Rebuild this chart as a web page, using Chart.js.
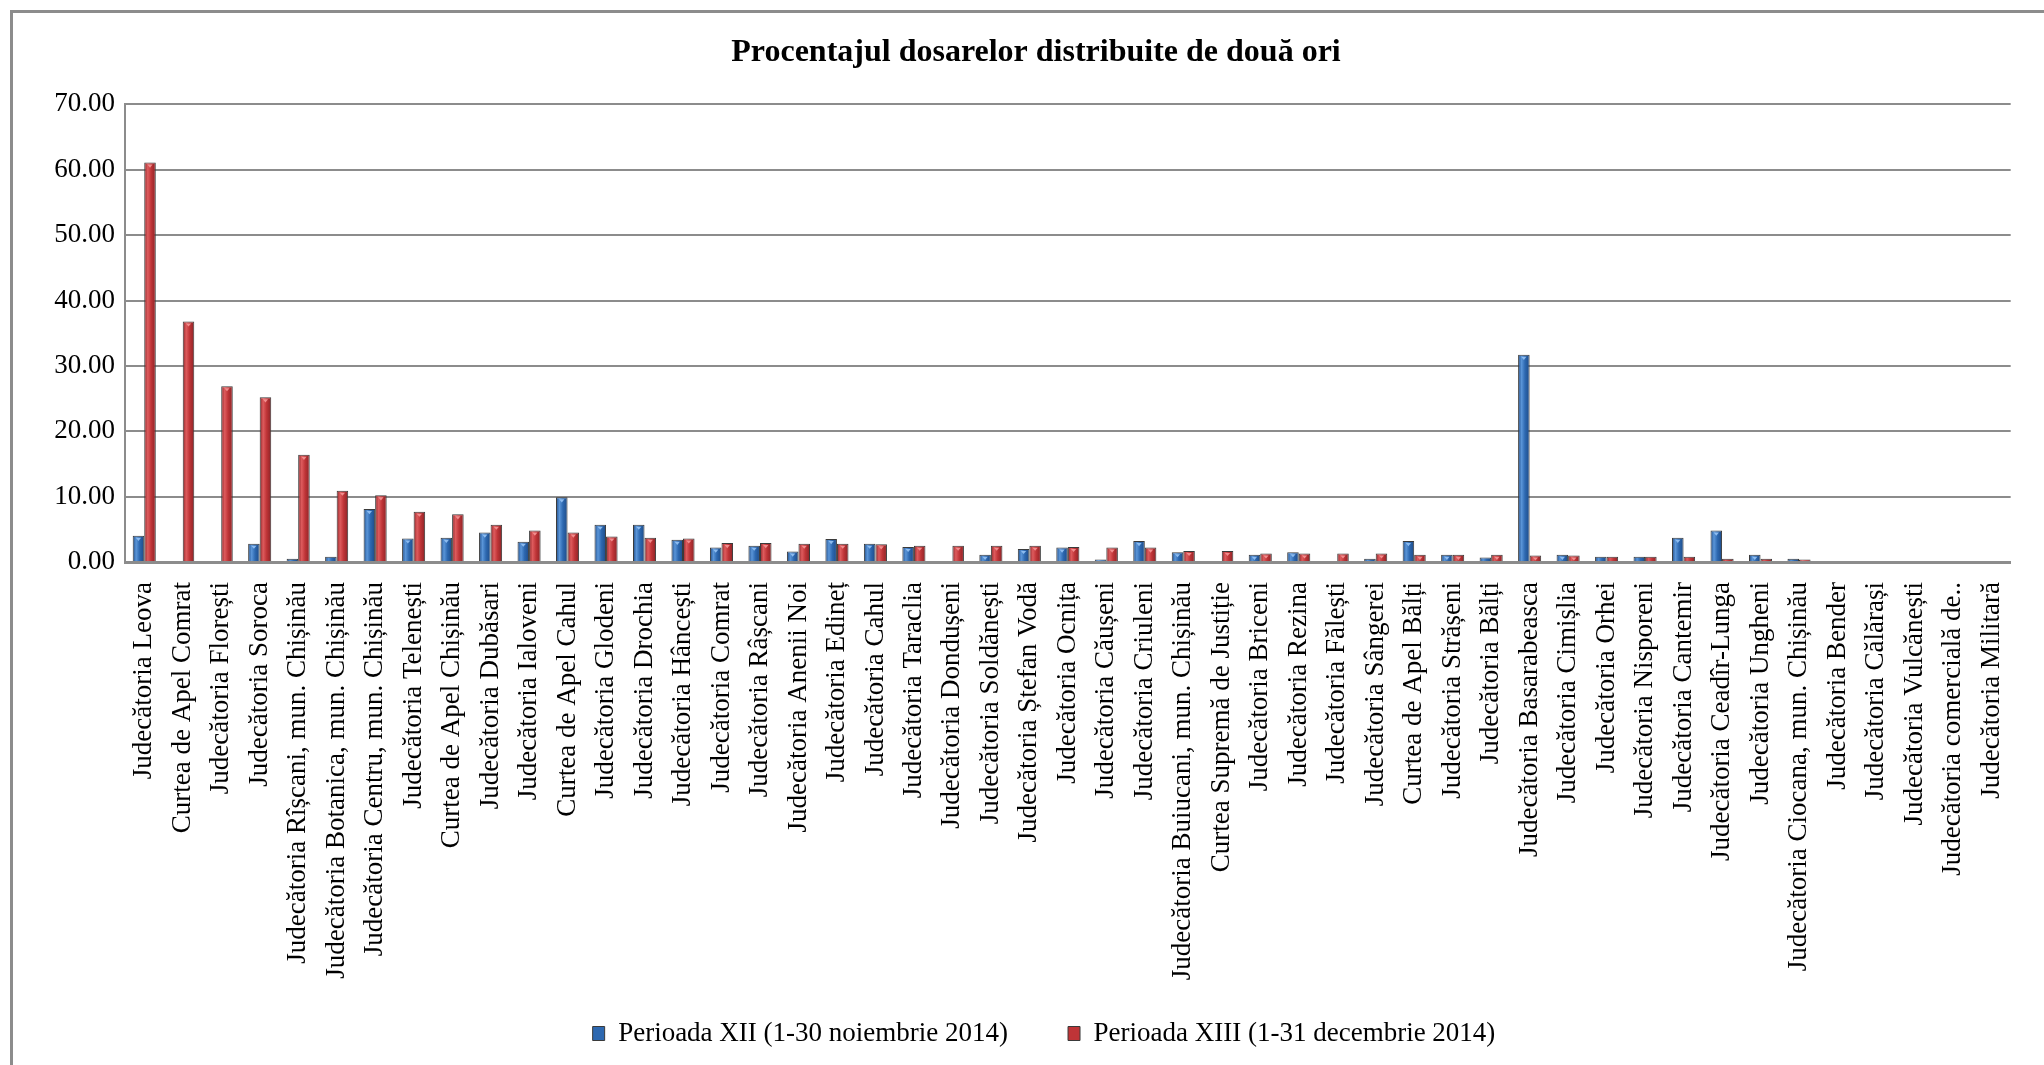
<!DOCTYPE html>
<html>
<head>
<meta charset="utf-8">
<script src="https://cdn.jsdelivr.net/npm/chart.js@4/dist/chart.umd.min.js"></script>
<style>
	html, body { margin: 0; padding: 0; background: #fff; }
	#wrap { width: 2044px; height: 1065px; }
</style>
</head>
<body>
<div id="wrap"><canvas id="bar-chart" width="2044" height="1065"></canvas></div>
<script>
const instante = [
	'Judecătoria Leova', 'Curtea de Apel Comrat', 'Judecătoria Florești', 'Judecătoria Soroca',
	'Judecătoria Rîșcani, mun. Chișinău', 'Judecătoria Botanica, mun. Chișinău', 'Judecătoria Centru, mun. Chișinău',
	'Judecătoria Telenești', 'Curtea de Apel Chișinău', 'Judecătoria Dubăsari', 'Judecătoria Ialoveni',
	'Curtea de Apel Cahul', 'Judecătoria Glodeni', 'Judecătoria Drochia', 'Judecătoria Hâncești',
	'Judecătoria Comrat', 'Judecătoria Râșcani', 'Judecătoria Anenii Noi', 'Judecătoria Edineț',
	'Judecătoria Cahul', 'Judecătoria Taraclia', 'Judecătoria Dondușeni', 'Judecătoria Soldănești',
	'Judecătoria Ștefan Vodă', 'Judecătoria Ocnița', 'Judecătoria Căușeni', 'Judecătoria Criuleni',
	'Judecătoria Buiucani, mun. Chișinău', 'Curtea Supremă de Justiție', 'Judecătoria Briceni',
	'Judecătoria Rezina', 'Judecătoria Fălești', 'Judecătoria Sângerei', 'Curtea de Apel Bălți',
	'Judecătoria Strășeni', 'Judecătoria Bălți', 'Judecătoria Basarabeasca', 'Judecătoria Cimișlia',
	'Judecătoria Orhei', 'Judecătoria Nisporeni', 'Judecătoria Cantemir', 'Judecătoria Ceadîr-Lunga',
	'Judecătoria Ungheni', 'Judecătoria Ciocana, mun. Chișinău', 'Judecătoria Bender',
	'Judecătoria Călărași', 'Judecătoria Vulcănești', 'Judecătoria comercială de..', 'Judecătoria Militară'
];

// Perioada XII (1-30 noiembrie 2014)
const perioadaXII = [
	4.0, 0, 0, 2.8, 0.5, 0.8, 8.1, 3.6, 3.7, 4.5, 3.1, 9.9, 5.7, 5.7, 3.4, 2.2, 2.5,
	1.6, 3.5, 2.8, 2.3, 0, 1.1, 2.0, 2.2, 0.4, 3.2, 1.5, 0, 1.1, 1.5, 0, 0.5, 3.2,
	1.1, 0.7, 31.7, 1.1, 0.8, 0.8, 3.7, 4.8, 1.1, 0.5, 0, 0, 0, 0, 0
];

// Perioada XIII (1-31 decembrie 2014)
const perioadaXIII = [
	61.1, 36.8, 26.9, 25.2, 16.4, 10.9, 10.2, 7.7, 7.3, 5.7, 4.8, 4.5, 3.9, 3.7, 3.6, 2.9, 2.9,
	2.8, 2.8, 2.7, 2.5, 2.5, 2.5, 2.5, 2.3, 2.2, 2.2, 1.7, 1.7, 1.3, 1.3, 1.3, 1.3, 1.1,
	1.1, 1.1, 1.0, 1.0, 0.8, 0.8, 0.8, 0.5, 0.5, 0.4, 0, 0, 0, 0, 0
];

const serif = "'Liberation Serif', 'Times New Roman', serif";
const CAT_PCT = 0.6;

// horizontal shading across each bar, like the Excel "3D" look
function barShade( dark, mid, light ) {
	return function ( ctx ) {
		const chart = ctx.chart;
		const xs = chart.scales.x;
		if ( !xs || xs.width === undefined || ctx.dataIndex === undefined ) {
			return mid;
		}
		const cw = xs.width / instante.length;
		const bw = cw * CAT_PCT / 2;
		const cx = xs.getPixelForValue( ctx.dataIndex );
		const left = ctx.datasetIndex === 0 ? cx - bw : cx;
		const g = chart.ctx.createLinearGradient( left, 0, left + bw, 0 );
		g.addColorStop( 0, dark );
		g.addColorStop( 0.3, light );
		g.addColorStop( 0.6, mid );
		g.addColorStop( 1, dark );
		return g;
	};
}

const framePlugin = {
	id: 'frame',
	beforeDraw( chart ) {
		const c = chart.ctx;
		c.save();
		c.fillStyle = '#ffffff';
		c.fillRect( 0, 0, chart.width, chart.height );
		c.strokeStyle = '#8c8c8c';
		c.lineWidth = 3;
		c.strokeRect( 11.5, 11.5, chart.width + 20, chart.height + 20 );
		c.restore();
	},
	afterLayout( chart ) {
		// legend and title sit a little right of the canvas centre in the original
		if ( chart.legend ) {
			chart.legend.left += 20;
			chart.legend.right += 20;
		}
		if ( chart.titleBlock ) {
			chart.titleBlock.left += 12;
			chart.titleBlock.right += 12;
		}
		// long category names run past the axis box, don't clip them
		chart.scales.x.bottom = chart.height;
	},
	afterDatasetsDraw( chart ) {
		// small light bevel mark at the top of every bar
		const c = chart.ctx;
		const tops = [ 'rgba(150,195,245,0.9)', 'rgba(245,150,150,0.9)' ];
		c.save();
		chart.data.datasets.forEach( ( ds, di ) => {
			chart.getDatasetMeta( di ).data.forEach( ( bar ) => {
				const h = bar.base - bar.y;
				if ( h < 5 ) {
					return;
				}
				const w = bar.width * 0.45;
				c.fillStyle = tops[ di ];
				c.beginPath();
				c.moveTo( bar.x - w / 2, bar.y + 2 );
				c.lineTo( bar.x + w / 2, bar.y + 2 );
				c.lineTo( bar.x, bar.y + 2 + w * 0.6 );
				c.closePath();
				c.fill();
			} );
		} );
		c.restore();
	},
};

function spamChart() {
	const barConfig = {
		type: 'bar',
		data: {
			labels: instante,
			datasets: [
				{
					label: 'Perioada XII (1-30 noiembrie 2014)',
					data: perioadaXII,
					backgroundColor: barShade( '#1d4a86', '#2d68b0', '#5a95d8' ),
					borderColor: '#3a3a3a',
					borderWidth: 1,
					categoryPercentage: CAT_PCT,
					barPercentage: 1.0,
				},
				{
					label: 'Perioada XIII (1-31 decembrie 2014)',
					data: perioadaXIII,
					backgroundColor: barShade( '#8a2326', '#bf3437', '#de5b5d' ),
					borderColor: '#3a3a3a',
					borderWidth: 1,
					categoryPercentage: CAT_PCT,
					barPercentage: 1.0,
				},
			],
		},
		options: {
			responsive: false,
			animation: false,
			devicePixelRatio: 1,
			layout: {
				padding: { left: 20, right: 16, top: 20, bottom: 8 },
			},
			plugins: {
				title: {
					display: true,
					text: 'Procentajul dosarelor distribuite de două ori',
					color: '#000',
					font: { family: serif, size: 32, weight: 'bold' },
					padding: { top: 14, bottom: 32 },
				},
				legend: {
					position: 'bottom',
					labels: {
						color: '#000',
						font: { family: serif, size: 27 },
						boxWidth: 12,
						boxHeight: 14,
						padding: 60,
						generateLabels( chart ) {
							const fills = [ '#2d68b0', '#bf3437' ];
							return chart.data.datasets.map( ( ds, i ) => ( {
								text: ds.label,
								fillStyle: fills[ i ],
								strokeStyle: '#3a3a3a',
								lineWidth: 1,
								datasetIndex: i,
								hidden: false,
							} ) );
						},
					},
				},
				tooltip: { enabled: false },
			},
			scales: {
				x: {
					grid: { display: false, drawTicks: false },
					border: { display: true, color: '#8c8c8c', width: 3 },
					ticks: {
						color: '#000',
						font: { family: serif, size: 27 },
						maxRotation: 90,
						minRotation: 90,
						autoSkip: false,
						padding: 20,
					},
					afterFit( scale ) {
						scale.height = 398;
					},
				},
				y: {
					min: 0,
					max: 70,
					grid: { color: '#8c8c8c', lineWidth: 2, drawTicks: false },
					border: { display: true, color: '#8c8c8c', width: 2 },
					ticks: {
						stepSize: 10,
						color: '#000',
						font: { family: serif, size: 27 },
						padding: 10,
						callback: ( v ) => Number( v ).toFixed( 2 ),
					},
					afterFit( scale ) {
						scale.width = 105;
					},
				},
			},
		},
		plugins: [ framePlugin ],
	};

	return new Chart( document.getElementById( 'bar-chart' ), barConfig );
}

spamChart();
</script>
</body>
</html>
